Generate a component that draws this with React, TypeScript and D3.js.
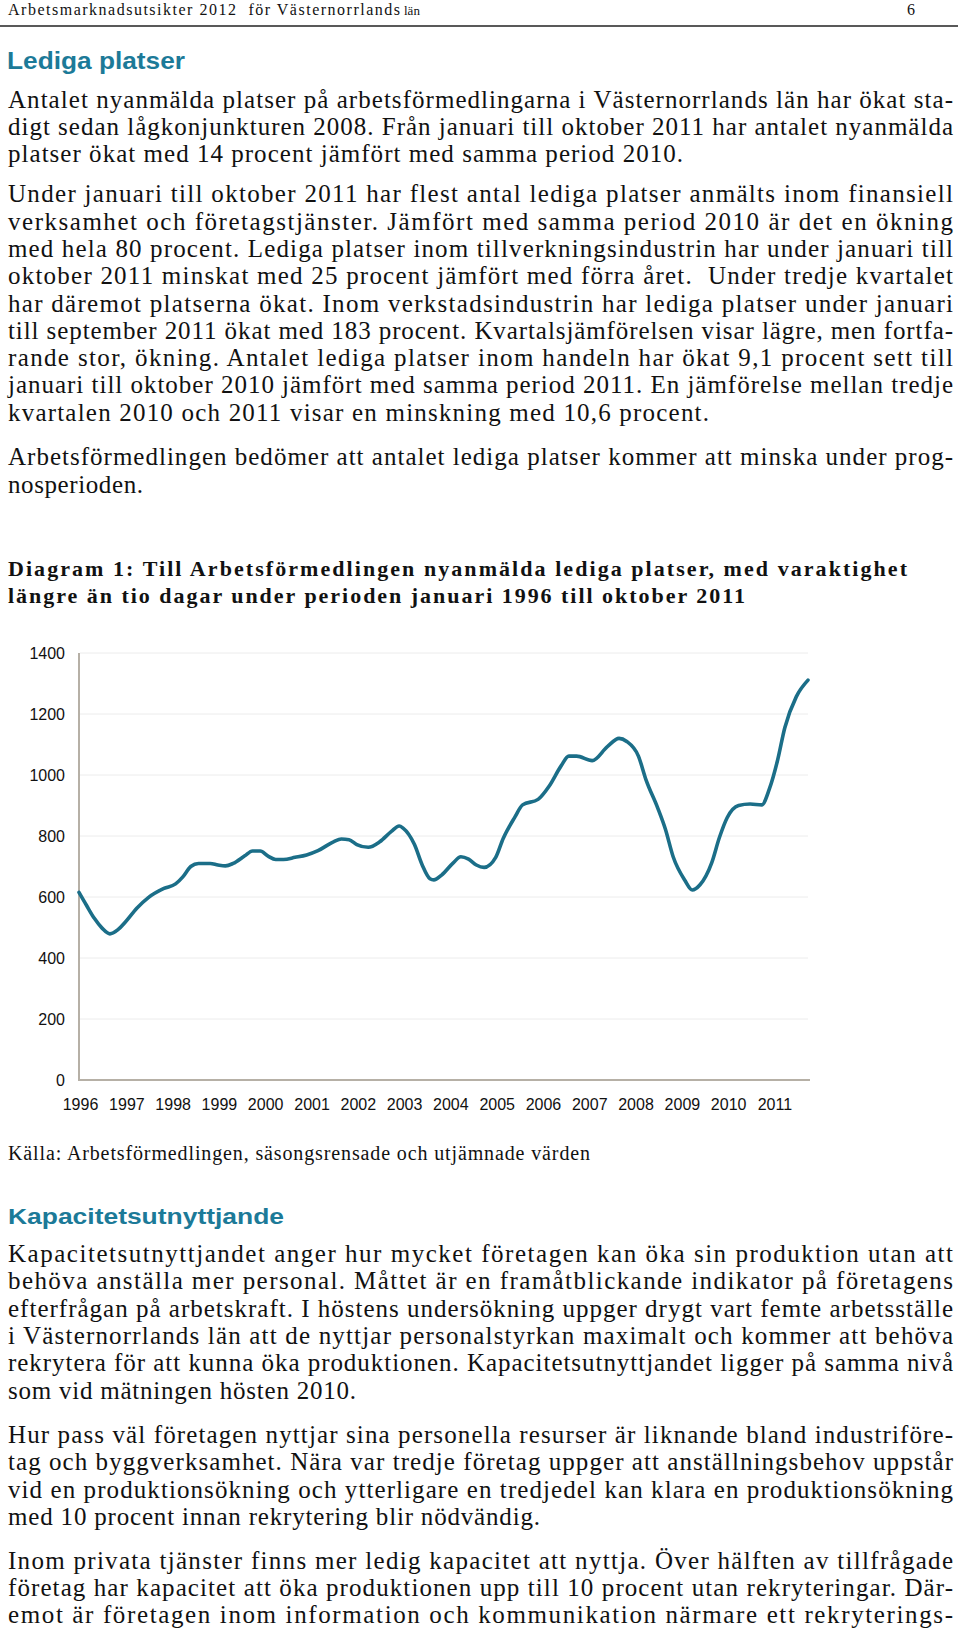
import React from 'react';
import * as d3 from 'd3';

// ---- Data ----
const months: string[] = [
  '1996-01', '1996-03', '1996-05', '1996-07', '1996-09', '1996-11',
  '1997-01', '1997-04', '1997-07', '1997-11',
  '1998-02', '1998-04', '1998-06', '1998-08', '1998-11',
  '1999-01', '1999-03', '1999-05', '1999-08', '1999-10', '1999-12',
  '2000-02', '2000-04', '2000-06', '2000-09', '2000-12',
  '2001-03', '2001-07', '2001-09', '2001-11',
  '2002-01', '2002-04', '2002-07', '2002-10', '2002-12',
  '2003-01', '2003-04', '2003-06', '2003-08', '2003-09', '2003-11',
  '2004-02', '2004-04', '2004-06', '2004-08', '2004-10',
  '2005-01', '2005-03', '2005-06', '2005-08', '2005-12',
  '2006-03', '2006-06', '2006-08', '2006-10',
  '2007-02', '2007-06', '2007-09', '2007-11',
  '2008-02', '2008-04', '2008-07', '2008-09', '2008-11',
  '2009-02', '2009-04', '2009-06', '2009-09', '2009-11',
  '2010-01', '2010-04', '2010-07', '2010-10', '2010-12',
  '2011-02', '2011-04', '2011-07', '2011-10',
];
const vacancies: number[] = [
  615, 572, 530, 498, 479, 492,
  518, 563, 598, 628,
  643, 667, 700, 710, 710,
  705, 702, 710, 735, 751, 751,
  734, 723, 723, 730, 738,
  752, 781, 790, 788,
  772, 763, 781, 815, 833,
  826, 772, 705, 660, 656, 672,
  712, 732, 724, 705, 697,
  730, 792, 862, 902, 920,
  965, 1030, 1062, 1062,
  1047, 1093, 1120, 1110,
  1062, 984, 893, 822, 732,
  655, 623, 640, 712, 795,
  860, 900, 905, 902, 955,
  1045, 1155, 1257, 1311,
];
const yTicks: number[] = [0, 200, 400, 600, 800, 1000, 1200, 1400];
const yearLabels: string[] = [
  '1996', '1997', '1998', '1999', '2000', '2001', '2002', '2003',
  '2004', '2005', '2006', '2007', '2008', '2009', '2010', '2011',
];

// ---- Text content ----
const para1: string[] = [
  'Antalet nyanmälda platser på arbetsförmedlingarna i Västernorrlands län har ökat sta-',
  'digt sedan lågkonjunkturen 2008. Från januari till oktober 2011 har antalet nyanmälda',
  'platser ökat med 14 procent jämfört med samma period 2010.',
];
const para2: string[] = [
  'Under januari till oktober 2011 har flest antal lediga platser anmälts inom finansiell',
  'verksamhet och företagstjänster. Jämfört med samma period 2010 är det en ökning',
  'med hela 80 procent. Lediga platser inom tillverkningsindustrin har under januari till',
  'oktober 2011 minskat med 25 procent jämfört med förra året.  Under tredje kvartalet',
  'har däremot platserna ökat. Inom verkstadsindustrin har lediga platser under januari',
  'till september 2011 ökat med 183 procent. Kvartalsjämförelsen visar lägre, men fortfa-',
  'rande stor, ökning. Antalet lediga platser inom handeln har ökat 9,1 procent sett till',
  'januari till oktober 2010 jämfört med samma period 2011. En jämförelse mellan tredje',
  'kvartalen 2010 och 2011 visar en minskning med 10,6 procent.',
];
const para3: string[] = [
  'Arbetsförmedlingen bedömer att antalet lediga platser kommer att minska under prog-',
  'nosperioden.',
];
const para4: string[] = [
  'Kapacitetsutnyttjandet anger hur mycket företagen kan öka sin produktion utan att',
  'behöva anställa mer personal. Måttet är en framåtblickande indikator på företagens',
  'efterfrågan på arbetskraft. I höstens undersökning uppger drygt vart femte arbetsställe',
  'i Västernorrlands län att de nyttjar personalstyrkan maximalt och kommer att behöva',
  'rekrytera för att kunna öka produktionen. Kapacitetsutnyttjandet ligger på samma nivå',
  'som vid mätningen hösten 2010.',
];
const para5: string[] = [
  'Hur pass väl företagen nyttjar sina personella resurser är liknande bland industriföre-',
  'tag och byggverksamhet. Nära var tredje företag uppger att anställningsbehov uppstår',
  'vid en produktionsökning och ytterligare en tredjedel kan klara en produktionsökning',
  'med 10 procent innan rekrytering blir nödvändig.',
];
const para6: string[] = [
  'Inom privata tjänster finns mer ledig kapacitet att nyttja. Över hälften av tillfrågade',
  'företag har kapacitet att öka produktionen upp till 10 procent utan rekryteringar. Där-',
  'emot är företagen inom information och kommunikation närmare ett rekryterings-',
];

const SERIF = '"Liberation Serif", "Times New Roman", serif';
const SANS = '"Liberation Sans", Arial, sans-serif';
const TEAL = '#1c7a98';
const LINE = '#1b6e88';
const AXIS = '#b6b0a6';
const GRID = '#ececec';

const LEFT = 8;
const RIGHT = 953;
const LH = 27.3;
const BODY_FS = 25;

type Block = { lines: string[]; y0: number; lastEnd: number; justifyLast?: boolean };

function Paragraph({ lines, y0, lastEnd, justifyLast }: Block) {
  return (
    <g>
      {lines.map((t, i) => {
        const isLast = i === lines.length - 1;
        const end = isLast && !justifyLast ? lastEnd : RIGHT;
        return (
          <text
            key={i}
            x={LEFT}
            y={y0 + i * LH}
            fontFamily={SERIF}
            fontSize={BODY_FS}
            fill="#111"
            textLength={end - LEFT}
            lengthAdjust="spacing"
            xmlSpace="preserve"
          >
            {t}
          </text>
        );
      })}
    </g>
  );
}

export default function App() {
  const W = 960;
  const H = 1629;

  const parse = d3.timeParse('%Y-%m');
  const data: [Date, number][] = months.map((m, i) => [parse(m) as Date, vacancies[i]]);

  const x = d3
    .scaleTime()
    .domain([parse('1996-01') as Date, parse('2011-10') as Date])
    .range([79, 808]);
  const y = d3.scaleLinear().domain([0, 1400]).range([1080, 653]);

  const line = d3
    .line<[Date, number]>()
    .x((d) => x(d[0]))
    .y((d) => y(d[1]))
    .curve(d3.curveMonotoneX);

  return (
    <svg
      width={W}
      height={H}
      viewBox={`0 0 ${W} ${H}`}
      style={{ position: 'absolute', left: 0, top: 0, background: '#fff' }}
    >
      <rect x={0} y={0} width={W} height={H} fill="#fff" />

      {/* Page header */}
      <text x={LEFT} y={15} fontFamily={SERIF} fontSize={16} fill="#111" textLength={392} lengthAdjust="spacing" xmlSpace="preserve">
        Arbetsmarknadsutsikter 2012  för Västernorrlands
      </text>
      <text x={404} y={15} fontFamily={SERIF} fontSize={13} fill="#111">
        län
      </text>
      <text x={911} y={15} fontFamily={SERIF} fontSize={16} fill="#111" textAnchor="middle">
        6
      </text>
      <line x1={0} x2={958} y1={26} y2={26} stroke="#222" strokeWidth={1.4} />

      {/* Heading */}
      <text x={7} y={69} fontFamily={SANS} fontWeight="bold" fontSize={24} fill={TEAL} textLength={178} lengthAdjust="spacingAndGlyphs">
        Lediga platser
      </text>

      <Paragraph lines={para1} y0={107.7} lastEnd={683} />
      <Paragraph lines={para2} y0={202.3} lastEnd={709} />
      <Paragraph lines={para3} y0={465.2} lastEnd={143} />

      {/* Diagram title */}
      <text x={LEFT} y={576} fontFamily={SERIF} fontWeight="bold" fontSize={22} fill="#111" textLength={899} lengthAdjust="spacing">
        Diagram 1: Till Arbetsförmedlingen nyanmälda lediga platser, med varaktighet
      </text>
      <text x={LEFT} y={603} fontFamily={SERIF} fontWeight="bold" fontSize={22} fill="#111" textLength={737} lengthAdjust="spacing">
        längre än tio dagar under perioden januari 1996 till oktober 2011
      </text>

      {/* Chart */}
      <g>
        {yTicks.map((t) => (
          <g key={t}>
            {t > 0 && (
              <line x1={80} x2={808} y1={y(t)} y2={y(t)} stroke={GRID} strokeWidth={1} />
            )}
            <text
              x={65}
              y={y(t)}
              dy="0.35em"
              textAnchor="end"
              fontFamily={SANS}
              fontSize={16}
              fill="#111"
            >
              {t}
            </text>
          </g>
        ))}
        <line x1={79} x2={79} y1={y(1400)} y2={y(0)} stroke={AXIS} strokeWidth={2} />
        <line x1={78} x2={810} y1={y(0)} y2={y(0)} stroke={AXIS} strokeWidth={2} />
        {yearLabels.map((yr) => (
          <text
            key={yr}
            x={x(parse(`${yr}-01`) as Date) + 1.5}
            y={1104}
            dy="0.35em"
            textAnchor="middle"
            fontFamily={SANS}
            fontSize={16}
            fill="#111"
          >
            {yr}
          </text>
        ))}
        <path
          d={line(data) || ''}
          fill="none"
          stroke={LINE}
          strokeWidth={3.6}
          strokeLinejoin="round"
          strokeLinecap="round"
        />
      </g>

      {/* Source */}
      <text x={LEFT} y={1160} fontFamily={SERIF} fontSize={20} fill="#111" textLength={582} lengthAdjust="spacing">
        Källa: Arbetsförmedlingen, säsongsrensade och utjämnade värden
      </text>

      {/* Second heading */}
      <text x={8} y={1224} fontFamily={SANS} fontWeight="bold" fontSize={22} fill={TEAL} textLength={276} lengthAdjust="spacingAndGlyphs">
        Kapacitetsutnyttjande
      </text>

      <Paragraph lines={para4} y0={1262} lastEnd={356} />
      <Paragraph lines={para5} y0={1443} lastEnd={540} />
      <Paragraph lines={para6} y0={1568.6} lastEnd={RIGHT} justifyLast />
    </svg>
  );
}
